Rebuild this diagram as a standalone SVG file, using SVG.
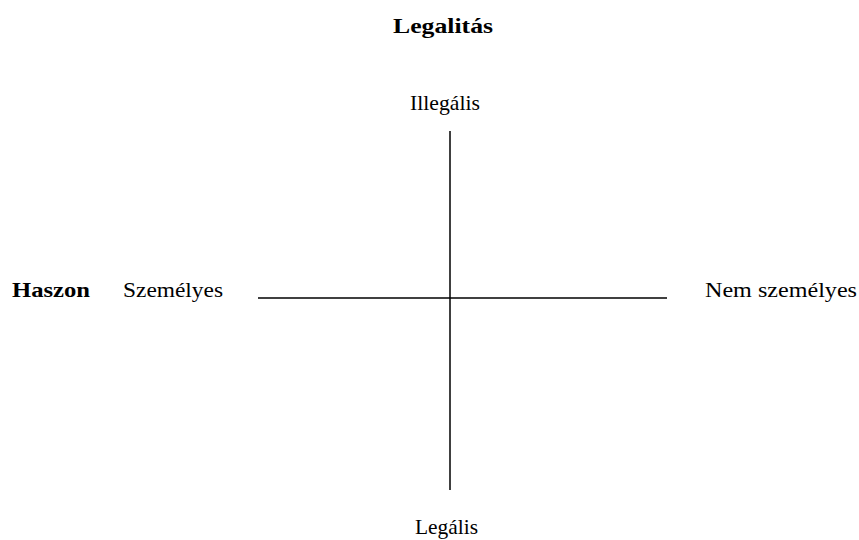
<svg xmlns="http://www.w3.org/2000/svg" width="859" height="540" viewBox="0 0 859 540">
<style>
text{font-family:"Liberation Serif","Times New Roman",serif;font-size:21px;fill:#000}
.b{font-weight:bold}
line{stroke:#000;stroke-width:1.5}
</style>
<rect width="859" height="540" fill="#fff"/>
<g id="connectors">
<line x1="450" y1="131" x2="450" y2="490"/>
<line x1="258" y1="298" x2="667" y2="298"/>
</g>
<g id="title"><text class="b" x="393" y="33" textLength="100" lengthAdjust="spacingAndGlyphs">Legalitás</text></g>
<g id="illegalis"><text x="410" y="110" textLength="70" lengthAdjust="spacingAndGlyphs">Illegális</text></g>
<g id="haszon"><text class="b" x="12" y="297" textLength="78" lengthAdjust="spacingAndGlyphs">Haszon</text></g>
<g id="szemelyes"><text x="123" y="297" textLength="100" lengthAdjust="spacingAndGlyphs">Személyes</text></g>
<g id="nemszemelyes"><text x="705" y="297" textLength="152" lengthAdjust="spacingAndGlyphs">Nem személyes</text></g>
<g id="legalis"><text x="415" y="534" textLength="63" lengthAdjust="spacingAndGlyphs">Legális</text></g>
</svg>
